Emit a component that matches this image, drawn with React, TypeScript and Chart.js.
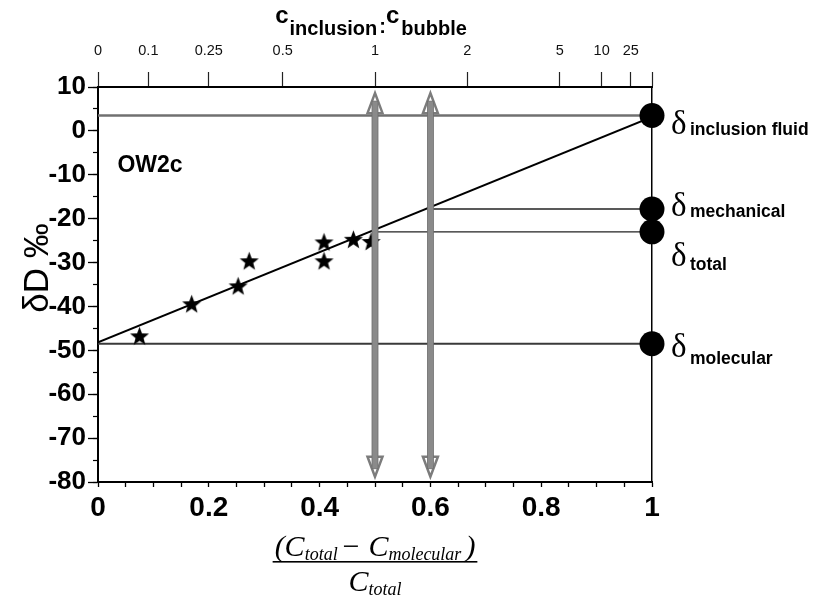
import React, { useEffect, useRef } from 'react';
import { Chart, registerables } from 'chart.js';

Chart.register(...registerables);

// Crushed-sample measurements: released-water fraction vs δD (‰)
const sampleX = [0.075, 0.169, 0.253, 0.273, 0.408, 0.408, 0.461, 0.493];
const sampleY = [-46.7, -39.4, -35.3, -29.6, -25.3, -29.6, -24.7, -25.2];

// Mixing line through the samples
const fitX = [0, 1];
const fitY = [-48.2, 3.2];

const endNames = ['inclusion fluid', 'mechanical', 'total', 'molecular'];
const endValues = [3.5, -17.8, -23.0, -48.5];
const endStartX = [0, 0.6, 0.5, 0];

// Double arrows marking the crushing steps
const arrowX = [0.5, 0.6];
const arrowRange = [8.6, -78.8];

// Top axis: c_inclusion : c_bubble ratios
const ratioLabels = ['0', '0.1', '0.25', '0.5', '1', '2', '5', '10', '25', ''];
const ratioValues = [0, 0.1, 0.25, 0.5, 1, 2, 5, 10, 25, Infinity];

const SANS = '"Liberation Sans", Arial, sans-serif';
const SERIF = '"Liberation Serif", "Times New Roman", serif';

type Run = { text: string; font: string; dy: number; gap?: number };

function drawRuns(ctx: CanvasRenderingContext2D, runs: Run[], cx: number, baseY: number) {
  let total = 0;
  const widths = runs.map((r) => {
    ctx.font = r.font;
    const w = ctx.measureText(r.text).width;
    total += w + (r.gap || 0);
    return w;
  });
  let x = cx - total / 2;
  ctx.textAlign = 'left';
  ctx.textBaseline = 'alphabetic';
  runs.forEach((r, i) => {
    ctx.font = r.font;
    ctx.fillText(r.text, x, baseY + r.dy);
    x += widths[i] + (r.gap || 0);
  });
  return { left: cx - total / 2, right: cx + total / 2 };
}

function makeStar(size: number) {
  const c = document.createElement('canvas');
  c.width = size;
  c.height = size;
  const g = c.getContext('2d')!;
  const R = size / 2 - 0.5;
  const r = R * 0.42;
  const cx = size / 2;
  const cy = size / 2 + 0.9;
  g.beginPath();
  for (let i = 0; i < 10; i++) {
    const a = -Math.PI / 2 + (i * Math.PI) / 5;
    const rad = i % 2 ? r : R;
    g.lineTo(cx + rad * Math.cos(a), cy + rad * Math.sin(a));
  }
  g.closePath();
  g.fillStyle = '#000';
  g.fill();
  return c;
}

const annotations = {
  id: 'annotations',
  afterDatasetsDraw(chart: any) {
    const ctx: CanvasRenderingContext2D = chart.ctx;
    const xs = chart.scales.x;
    const ys = chart.scales.y;
    ctx.save();

    // double arrows
    const yTop = ys.getPixelForValue(arrowRange[0]);
    const yBot = ys.getPixelForValue(arrowRange[1]);
    const headH = 20;
    const headW = 7.5;
    arrowX.forEach((ax) => {
      const px = xs.getPixelForValue(ax);
      [
        [yTop, 1],
        [yBot, -1],
      ].forEach(([tip, dir]) => {
        ctx.beginPath();
        ctx.moveTo(px, tip);
        ctx.lineTo(px - headW, tip + dir * headH);
        ctx.lineTo(px + headW, tip + dir * headH);
        ctx.closePath();
        ctx.fillStyle = '#fff';
        ctx.fill();
        ctx.lineWidth = 2.5;
        ctx.strokeStyle = '#7c7c7c';
        ctx.lineJoin = 'miter';
        ctx.stroke();
      });
      ctx.fillStyle = '#8a8a8a';
      ctx.fillRect(px - 3, yTop + 8, 6, yBot - yTop - 16);
      ctx.strokeStyle = '#6e6e6e';
      ctx.lineWidth = 0.8;
      ctx.strokeRect(px - 3, yTop + 8, 6, yBot - yTop - 16);
    });

    ctx.fillStyle = '#000';

    // sample label
    ctx.font = `bold 23px ${SANS}`;
    ctx.textAlign = 'left';
    ctx.textBaseline = 'alphabetic';
    ctx.fillText('OW2c', xs.getPixelForValue(0.035), ys.getPixelForValue(-9.4));

    // end-member labels
    const cx = xs.getPixelForValue(1);
    const dyDelta = [18, 7, 34, 13];
    const dySub = [1, 1, 4, 7];
    endNames.forEach((name, i) => {
      const py = ys.getPixelForValue(endValues[i]) + dyDelta[i];
      ctx.font = `33px ${SERIF}`;
      ctx.fillText('δ', cx + 19, py);
      ctx.font = `bold 17.5px ${SANS}`;
      ctx.fillText(name, cx + 38, py + dySub[i]);
    });

    ctx.restore();
  },
  afterDraw(chart: any) {
    const ctx: CanvasRenderingContext2D = chart.ctx;
    const area = chart.chartArea;
    const mid = (area.left + area.right) / 2;
    ctx.save();
    ctx.fillStyle = '#000';

    // top axis title
    drawRuns(
      ctx,
      [
        { text: 'c', font: `bold 24px ${SANS}`, dy: 0, gap: 1 },
        { text: 'inclusion', font: `bold 20px ${SANS}`, dy: 12, gap: 2 },
        { text: ':', font: `bold 20px ${SANS}`, dy: 10, gap: 0 },
        { text: 'c', font: `bold 24px ${SANS}`, dy: 0, gap: 2 },
        { text: 'bubble', font: `bold 20px ${SANS}`, dy: 12 },
      ],
      mid - 4,
      23
    );

    // left axis title
    ctx.save();
    ctx.translate(38, 268);
    ctx.rotate(-Math.PI / 2);
    ctx.font = `35px ${SANS}`;
    ctx.textAlign = 'center';
    ctx.textBaseline = 'middle';
    ctx.fillText('δD ‰', 0, 0);
    ctx.restore();

    // bottom axis title as a fraction
    const cFont = `italic 30px ${SERIF}`;
    const sFont = `italic 18px ${SERIF}`;
    const num = drawRuns(
      ctx,
      [
        { text: '(C', font: cFont, dy: 0 },
        { text: 'total', font: sFont, dy: 4, gap: 3 },
        { text: '− C', font: cFont, dy: 0 },
        { text: 'molecular', font: sFont, dy: 4, gap: 4 },
        { text: ')', font: cFont, dy: 0 },
      ],
      mid,
      556
    );
    ctx.fillRect(num.left - 2, 561, num.right - num.left + 4, 1.6);
    drawRuns(
      ctx,
      [
        { text: 'C', font: cFont, dy: 0 },
        { text: 'total', font: sFont, dy: 4 },
      ],
      mid,
      591
    );
    ctx.restore();
  },
};

export default function App() {
  const ref = useRef<HTMLCanvasElement>(null);

  useEffect(() => {
    const canvas = ref.current!;
    const star = makeStar(21);

    const chart = new Chart(canvas, {
      type: 'scatter',
      data: {
        datasets: [
          {
            label: 'end members',
            data: endValues.map((v) => ({ x: 1, y: v })),
            pointRadius: 12.5,
            pointBackgroundColor: '#000',
            pointBorderWidth: 0,
            clip: false,
            order: 0,
          } as any,
          {
            label: 'samples',
            data: sampleX.map((x, i) => ({ x, y: sampleY[i] })),
            pointStyle: star,
            pointRadius: 10,
            order: 1,
          },
          {
            label: 'mixing line',
            data: fitX.map((x, i) => ({ x, y: fitY[i] })),
            showLine: true,
            borderColor: '#000',
            borderWidth: 2,
            pointRadius: 0,
            order: 2,
          },
          ...endNames.map((name, i) => ({
            label: name,
            data: [
              { x: endStartX[i], y: endValues[i] },
              { x: 1, y: endValues[i] },
            ],
            showLine: true,
            borderColor: i === 0 ? '#707070' : i === 3 ? '#3a3a3a' : '#222',
            borderWidth: i === 0 ? 2.4 : i === 3 ? 1.8 : 1.4,
            pointRadius: 0,
            order: 3,
          })),
        ],
      },
      plugins: [annotations],
      options: {
        animation: false,
        responsive: false,
        devicePixelRatio: 1,
        events: [],
        layout: { padding: 0 },
        plugins: {
          legend: { display: false },
          tooltip: { enabled: false },
        },
        scales: {
          x: {
            type: 'linear',
            position: 'bottom',
            min: 0,
            max: 1,
            afterFit: (s: any) => {
              s.height = 118;
            },
            grid: {
              drawOnChartArea: false,
              tickLength: 5,
              tickColor: '#000',
              tickWidth: 1.3,
            },
            border: { display: true, color: '#000', width: 2 },
            ticks: {
              stepSize: 0.05,
              autoSkip: false,
              maxRotation: 0,
              padding: 4,
              color: '#000',
              font: { family: SANS, size: 28, weight: 'bold' },
              callback: (v: any) => {
                const n = Number(v);
                return Math.abs(n * 5 - Math.round(n * 5)) < 1e-6 ? String(Number(n.toFixed(2))) : '';
              },
            },
          },
          xTop: {
            type: 'linear',
            position: 'top',
            min: 0,
            max: 1,
            afterFit: (s: any) => {
              s.height = 87;
            },
            afterBuildTicks: (s: any) => {
              s.ticks = ratioValues.map((r) => ({ value: r === Infinity ? 1 : r / (1 + r) }));
            },
            grid: {
              drawOnChartArea: false,
              tickLength: 15,
              tickColor: '#222',
              tickWidth: 1.2,
            },
            border: { display: true, color: '#000', width: 2 },
            ticks: {
              autoSkip: false,
              maxRotation: 0,
              padding: 12,
              color: '#111',
              font: { family: SANS, size: 14.5 },
              callback: (_v: any, i: number) => ratioLabels[i] ?? '',
            },
          },
          y: {
            type: 'linear',
            position: 'left',
            min: -80,
            max: 10,
            weight: 0,
            afterFit: (s: any) => {
              s.width = 98;
            },
            grid: {
              drawOnChartArea: false,
              tickLength: 10,
              tickColor: '#000',
              tickWidth: 1.3,
            },
            border: { display: true, color: '#000', width: 2 },
            ticks: {
              stepSize: 10,
              padding: 2,
              color: '#000',
              font: { family: SANS, size: 26, weight: 'bold' },
              callback: (v: any) => String(v),
            },
          },
          yMinor: {
            type: 'linear',
            position: 'left',
            min: -80,
            max: 10,
            weight: -1,
            afterFit: (s: any) => {
              s.width = 0;
            },
            grid: {
              drawOnChartArea: false,
              tickLength: 5,
              tickColor: '#000',
              tickWidth: 1.2,
            },
            border: { display: false },
            ticks: { stepSize: 5, display: false },
          },
          yRight: {
            type: 'linear',
            position: 'right',
            min: -80,
            max: 10,
            afterFit: (s: any) => {
              s.width = 164;
            },
            grid: { drawOnChartArea: false, drawTicks: false },
            border: { display: true, color: '#000', width: 1.5 },
            ticks: { display: false },
          },
        },
      } as any,
    });

    return () => chart.destroy();
  }, []);

  return (
    <div style={{ position: 'fixed', left: 0, top: 0, width: 816, height: 600, background: '#fff' }}>
      <canvas ref={ref} width={816} height={600} style={{ display: 'block' }} />
    </div>
  );
}
